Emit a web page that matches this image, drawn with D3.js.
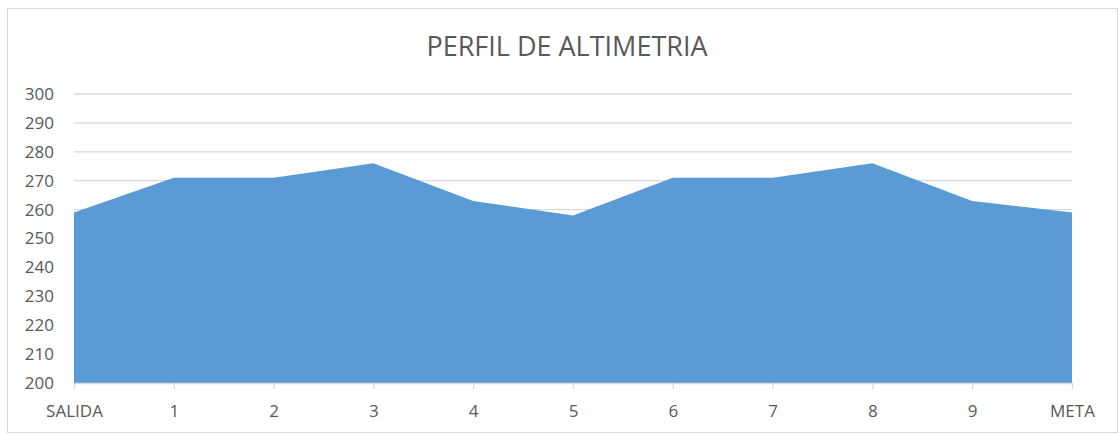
<!DOCTYPE html>
<html>
<head>
<meta charset="utf-8">
<script src="https://cdn.jsdelivr.net/npm/d3@7"></script>
<style>
  body { margin: 0; background: #fff; }
  text { font-family: "Open Sans", "Liberation Sans", sans-serif; fill: #595959; }
</style>
</head>
<body>
<div id="plot"></div>
<script>
// puntos del recorrido y altitudes
const puntos = ["SALIDA", "1", "2", "3", "4", "5", "6", "7", "8", "9", "META"];
const altitudes = [259, 271, 271, 276, 263, 258, 271, 271, 276, 263, 259];
const yTicks = [200, 210, 220, 230, 240, 250, 260, 270, 280, 290, 300];

const width = 1119;
const height = 434;
const margin = { top: 94, right: 47, bottom: 51, left: 74 };

const svg = d3.select("#plot").append("svg")
    .attr("width", width)
    .attr("height", height);

// marco del grafico
svg.append("rect")
    .attr("x", 7.5).attr("y", 8.5)
    .attr("width", 1110).attr("height", 424)
    .attr("fill", "none")
    .attr("stroke", "#d9d9d9");

const x = d3.scalePoint()
    .domain(puntos)
    .range([margin.left, width - margin.right]);

const y = d3.scaleLinear()
    .domain([200, 300])
    .range([height - margin.bottom, margin.top]);

// lineas de cuadricula
svg.append("g")
    .selectAll("line")
    .data(yTicks.slice(1))
    .enter()
    .append("line")
    .attr("x1", margin.left)
    .attr("x2", width - margin.right)
    .attr("y1", d => y(d))
    .attr("y2", d => y(d))
    .attr("stroke", "#d9d9d9")
    .attr("stroke-width", 1.3);

const data = puntos.map((p, i) => ({ p: p, v: altitudes[i] }));

const area = d3.area()
    .x(d => x(d.p))
    .y0(y(200))
    .y1(d => y(d.v));

svg.append("path")
    .datum(data)
    .attr("d", area)
    .attr("fill", "#5b9bd5");

// eje x
const xAxis = svg.append("g")
    .attr("transform", `translate(0,${y(200)})`)
    .call(d3.axisBottom(x).tickSize(6).tickSizeOuter(0).tickPadding(16));
xAxis.select(".domain").attr("stroke", "#d9d9d9").attr("stroke-width", 1.3);
xAxis.selectAll(".tick line").attr("stroke", "#d9d9d9").attr("stroke-width", 1.3);
xAxis.selectAll("text").style("font-size", "17px").style("font-family", "'Open Sans'").attr("fill", "#595959");

// eje y
const yAxis = svg.append("g")
    .attr("transform", `translate(${margin.left},0)`)
    .call(d3.axisLeft(y).tickValues(yTicks).tickSize(0).tickPadding(20));
yAxis.select(".domain").remove();
yAxis.selectAll("text").style("font-size", "17px").style("font-family", "'Open Sans'").attr("fill", "#595959");

svg.append("text")
    .attr("x", 567)
    .attr("y", 56)
    .attr("text-anchor", "middle")
    .style("font-size", "27px")
    .text("PERFIL DE ALTIMETRIA");
</script>
</body>
</html>
